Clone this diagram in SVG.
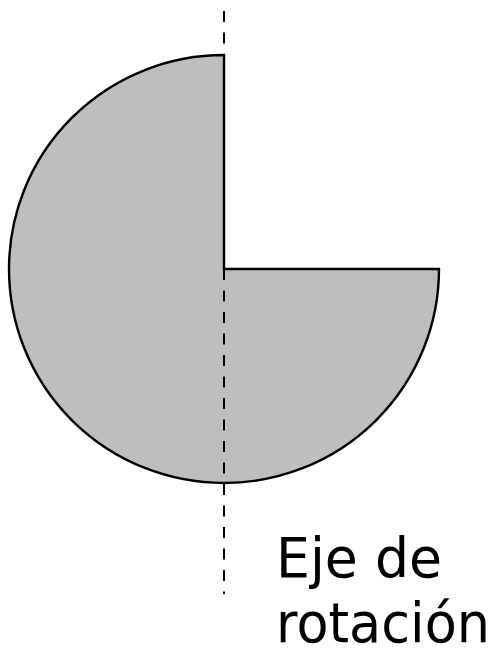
<svg xmlns="http://www.w3.org/2000/svg" width="496" height="650" viewBox="0 0 496 650">
<style>
.shape{fill:#bcbec0;stroke:#000;stroke-width:2.4;stroke-linejoin:miter}
.axis{stroke:#000;stroke-width:2;stroke-dasharray:11 10.5;fill:none}
.label{font-family:"DejaVu Sans",Verdana,sans-serif;font-size:56px;fill:#000}
</style>
<rect width="496" height="650" fill="#fff"/>
<g id="shape">
<path class="shape" d="M224,269 L439,269 A215,214 0 1 1 224,55 Z"/>
</g>
<g id="connectors">
<line class="axis" x1="224" y1="11" x2="224" y2="594"/>
</g>
<g id="label">
<text class="label" x="276" y="577" textLength="166" lengthAdjust="spacingAndGlyphs">Eje de</text>
<text class="label" x="276" y="642" textLength="214" lengthAdjust="spacingAndGlyphs">rotación</text>
</g>
</svg>
